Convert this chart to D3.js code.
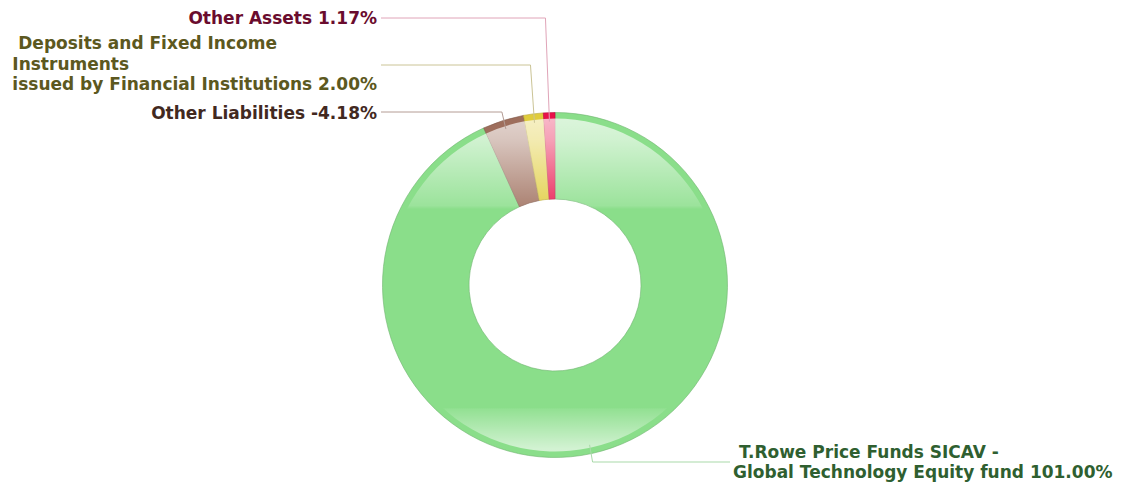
<html>
<head>
<meta charset="utf-8">
<title>Portfolio Allocation Doughnut</title>
<style type="text/css">
  body { margin: 0; background: #fff; }
  text { font-family: "DejaVu Sans", Verdana, sans-serif; font-weight: bold; font-size: 17px; white-space: pre; }
</style>
<script src="https://cdn.jsdelivr.net/npm/d3@7"></script>
</head>
<body>
<svg width="1123" height="483"></svg>
<script>
// data
var names = ["T.Rowe Price Funds SICAV - Global Technology Equity fund",
             "Other Liabilities",
             "Deposits and Fixed Income Instruments issued by Financial Institutions",
             "Other Assets"];
var values = [101.00, -4.18, 2.00, 1.17];
// label text split into lines (value gets appended to the last line)
var labelLines = [[" T.Rowe Price Funds SICAV -", "Global Technology Equity fund"],
                  ["Other Liabilities"],
                  [" Deposits and Fixed Income", "Instruments", "issued by Financial Institutions"],
                  ["Other Assets"]];
var colors = ["#8ade8a", "#9e6e5c", "#e0cc3c", "#e8124a"];
var textColors = ["#2f5f30", "#42291f", "#5c5820", "#6a0c2e"];
var lineColors = ["#a9d9a9", "#b49c94", "#cbc496", "#e0a4b8"];

var svg = d3.select("svg"),
    cx = 555, cy = 285,
    outerR = 172.5, innerR = 86, rim = 6;

// label layout: y of leader line, baseline of first line, side
var layout = [
  {side: "right", lineY: 462, firstBase: 457.5},
  {side: "left", lineY: 112, firstBase: 118.5},
  {side: "left", lineY: 65, firstBase: 49},
  {side: "left", lineY: 18, firstBase: 24}
];
var lineH = 20.5, leftEdge = 377, rightEdge = 733;

var data = names.map(function(n, i){
  return {name: n, value: values[i], lines: labelLines[i], color: colors[i],
          textColor: textColors[i], lineColor: lineColors[i], lay: layout[i]};
});

var pie = d3.pie().sort(null).value(d => Math.abs(d.value));
var arcs = pie(data);

var defs = svg.append("defs");
// gradient is in the translated (centre) coordinate system of the slices
var grad = defs.append("linearGradient")
  .attr("id", "gloss")
  .attr("gradientUnits", "userSpaceOnUse")
  .attr("x1", 0).attr("y1", -outerR).attr("x2", 0).attr("y2", outerR);
[[0, 0.72], [0.08, 0.6], [0.27, 0.15], [0.28, 0], [0.855, 0], [0.86, 0.08], [0.975, 0.62], [1, 0.62]]
  .forEach(s => grad.append("stop").attr("offset", s[0]).attr("stop-color", "#fff").attr("stop-opacity", s[1]));

var g = svg.append("g").attr("transform", `translate(${cx},${cy})`);

var arcBase = d3.arc().innerRadius(innerR).outerRadius(outerR);
var arcGloss = d3.arc().innerRadius(innerR).outerRadius(outerR - rim);

g.selectAll(".slice")
  .data(arcs)
  .enter()
  .append("path")
  .attr("class", "slice")
  .attr("d", arcBase)
  .attr("fill", d => d.data.color)
  .attr("stroke", d => d3.color(d.data.color).darker(0.6))
  .attr("stroke-width", 0.6);

g.selectAll(".gloss")
  .data(arcs)
  .enter()
  .append("path")
  .attr("class", "gloss")
  .attr("d", arcGloss)
  .attr("fill", "url(#gloss)");

// leader lines + labels
var labels = svg.append("g");
arcs.forEach(function(a){
  var d = a.data, mid = (a.startAngle + a.endAngle) / 2, r = outerR - 9;
  var px = cx + r * Math.sin(mid), py = cy - r * Math.cos(mid);
  var pts;
  if (d.lay.side == "left") {
    pts = [[px, py], [px - 4, d.lay.lineY], [leftEdge + 4, d.lay.lineY]];
  } else {
    pts = [[px, py], [px + 3, d.lay.lineY], [rightEdge - 3, d.lay.lineY]];
  }
  labels.append("path")
    .attr("d", d3.line()(pts))
    .attr("fill", "none")
    .attr("stroke", d.lineColor)
    .attr("stroke-width", 1);

  var pct = d.value.toFixed(2) + "%";
  var lines = d.lines.slice();
  lines[lines.length - 1] = lines[lines.length - 1] + " " + pct;
  var t = labels.append("text").attr("fill", d.textColor);
  lines.forEach(function(l, i){
    t.append("tspan").attr("x", 0).attr("y", d.lay.firstBase + i * lineH).text(l);
  });
  var w = t.node().getBBox().width;
  var x0 = d.lay.side == "left" ? leftEdge - w : rightEdge;
  t.selectAll("tspan").attr("x", x0);
});
</script>
</body>
</html>
